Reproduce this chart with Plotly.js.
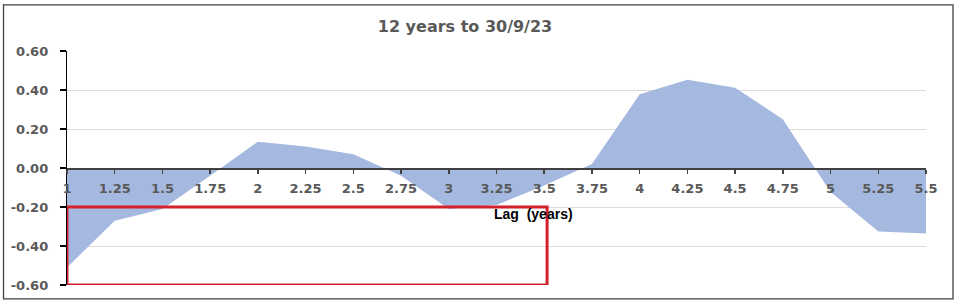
<!DOCTYPE html>
<html>
<head>
<meta charset="utf-8">
<script src="https://cdn.plot.ly/plotly-3.0.1.min.js"></script>
<style>
html,body{margin:0;padding:0;background:#fff;}
#chart{width:960px;height:308px;}
</style>
</head>
<body>
<div id="chart"></div>
<script>
// Data
const lagYears = [1, 1.25, 1.5, 1.75, 2, 2.25, 2.5, 2.75, 3, 3.25, 3.5, 3.75, 4, 4.25, 4.5, 4.75, 5, 5.25, 5.5];
const correlation = [-0.51, -0.27, -0.21, -0.04, 0.135, 0.11, 0.07, -0.04, -0.21, -0.19, -0.09, 0.02, 0.378, 0.453, 0.412, 0.25, -0.123, -0.325, -0.336];
const xTickLabels = ["1", "1.25", "1.5", "1.75", "2", "2.25", "2.5", "2.75", "3", "3.25", "3.5", "3.75", "4", "4.25", "4.5", "4.75", "5", "5.25", "5.5"];
const yTickValues = [-0.6, -0.4, -0.2, 0, 0.2, 0.4, 0.6];
const yTickLabels = ["-0.60", "-0.40", "-0.20", "0.00", "0.20", "0.40", "0.60"];
const chartTitle = "12 years to 30/9/23";
const xAxisTitle = "Lag\u00a0 (years)";
const highlightBox = {x0: 1, x1: 3.515, y0: -0.6, y1: -0.2};

const tickFont = {family: "DejaVu Sans", size: 13, color: "#595959", weight: "bold"};

const trace = {
  x: lagYears,
  y: correlation,
  type: "scatter",
  mode: "none",
  fill: "tozeroy",
  fillcolor: "#a5b9e0",
  hoverinfo: "skip",
  showlegend: false
};

const layout = {
  width: 960,
  height: 308,
  margin: {l: 67, r: 34, t: 51, b: 23, pad: 0},
  paper_bgcolor: "#ffffff",
  plot_bgcolor: "#ffffff",
  showlegend: false,
  title: {
    text: "<b>" + chartTitle + "</b>",
    font: {family: "DejaVu Sans", size: 16, color: "#595959"},
    x: 465 / 960,
    xanchor: "center",
    xref: "container",
    y: 1 - 26 / 308,
    yanchor: "middle",
    yref: "container"
  },
  xaxis: {
    range: [1, 5.5],
    anchor: "free",
    position: 0.5,
    tickmode: "array",
    tickvals: lagYears,
    ticktext: xTickLabels,
    ticks: "outside",
    ticklen: 4,
    tickwidth: 1.5,
    tickcolor: "#404040",
    showline: true,
    linecolor: "#404040",
    linewidth: 1.5,
    showgrid: false,
    zeroline: false,
    tickfont: tickFont,
    ticklabelstandoff: 4,
    fixedrange: true
  },
  yaxis: {
    range: [-0.6, 0.6],
    tickmode: "array",
    tickvals: yTickValues,
    ticktext: yTickLabels,
    ticks: "outside",
    ticklen: 6,
    tickwidth: 1.2,
    tickcolor: "#000000",
    showline: true,
    linecolor: "#000000",
    linewidth: 1.2,
    showgrid: true,
    gridcolor: "#dcdcdc",
    gridwidth: 1,
    zeroline: false,
    tickfont: tickFont,
    ticklabelstandoff: 9,
    fixedrange: true
  },
  annotations: [{
    text: "<b>" + xAxisTitle + "</b>",
    xref: "paper", yref: "paper",
    x: (533 - 67) / 859, y: (284.7 - 213.5) / 234,
    xanchor: "center", yanchor: "middle",
    showarrow: false,
    font: {family: "Liberation Sans", size: 14, color: "#000000"}
  }],
  shapes: [
    {
      type: "rect", xref: "x", yref: "y",
      x0: highlightBox.x0, x1: highlightBox.x1, y0: highlightBox.y0, y1: highlightBox.y1,
      line: {color: "#d4202a", width: 3},
      fillcolor: "rgba(0,0,0,0)",
      layer: "above"
    },
    {
      type: "rect", xref: "paper", yref: "paper",
      x0: (3.5 - 67) / 859, x1: (953 - 67) / 859,
      y0: (284.7 - 298.5) / 234, y1: (284.7 - 4.5) / 234,
      line: {color: "#404040", width: 1.3},
      fillcolor: "rgba(0,0,0,0)",
      layer: "above"
    }
  ]
};

Plotly.newPlot("chart", [trace], layout, {displayModeBar: false, staticPlot: true});
</script>
</body>
</html>
